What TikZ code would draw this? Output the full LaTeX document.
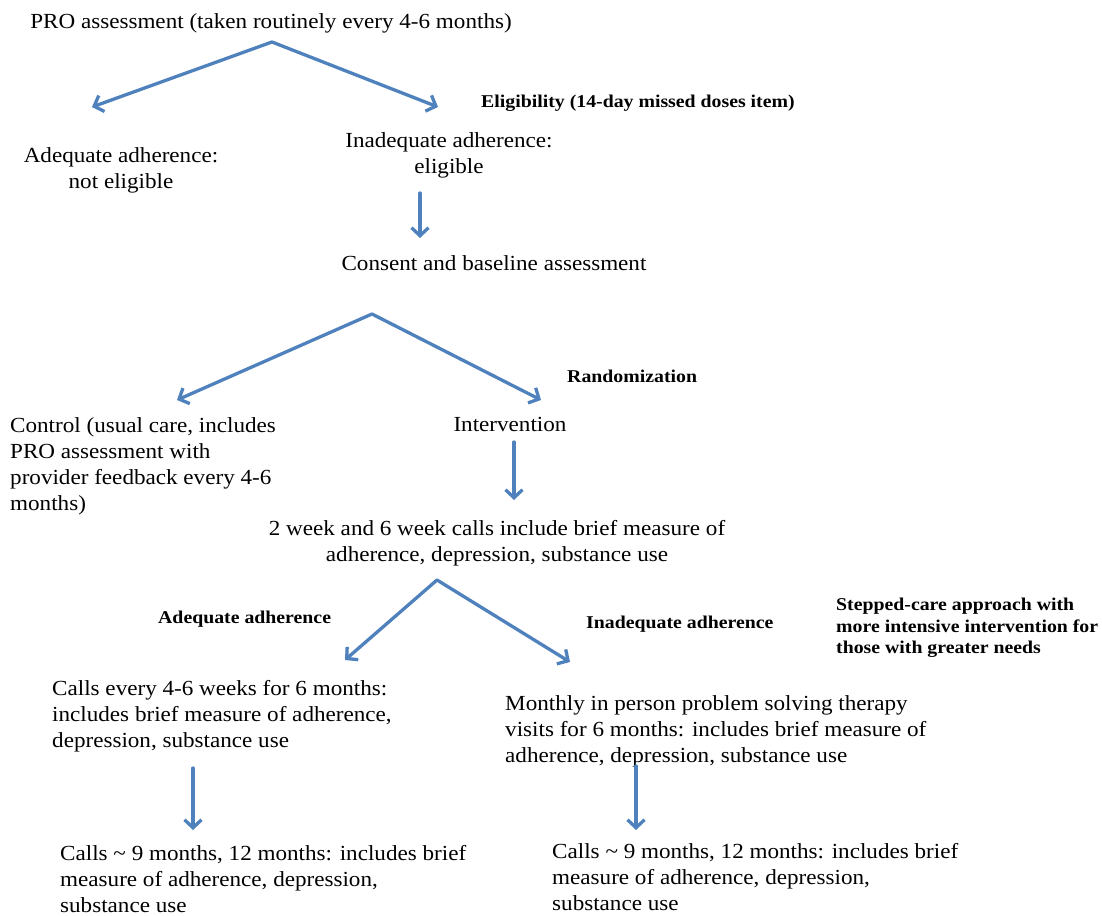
\documentclass[tikz,border=0pt]{standalone}
\usepackage{fontspec}
\setmainfont[FakeStretch=1.075]{Liberation Serif}
\newfontfamily\notefont[FakeStretch=1.1]{Liberation Serif}
\usepackage{xcolor}
\usetikzlibrary{arrows.meta}
\definecolor{flowblue}{RGB}{79,129,189}

\begin{document}
\begin{tikzpicture}[x=1pt, y=-1pt,
    txt/.style={inner sep=0pt, font=\fontsize{21.5}{26}\selectfont, align=center},
    lefttxt/.style={txt, align=left, anchor=north west},
    note/.style={inner sep=0pt, font=\notefont\fontsize{18}{21.5}\selectfont\bfseries, anchor=west, align=left},
    flow/.style={flowblue, line width=3.3pt, line cap=round, -{Straight Barb[length=8pt,width=17pt]}}]

    \useasboundingbox (0,0) rectangle (1102,915);

    % Eligibility step
    \node[txt] (pro) at (271,23) {PRO assessment (taken routinely every 4-6 months)};
    \coordinate (split1) at (272,42);
    \coordinate (adeqtip) at (92,107);
    \coordinate (inadeqtip) at (438,107);
    \draw[flow] (split1) -- (adeqtip);
    \draw[flow] (split1) -- (inadeqtip);
    \node[note] (elig) at (481,103) {Eligibility (14-day missed doses item)};

    \node[txt, anchor=north] (adeq) at (121,147) {Adequate adherence:\\not eligible};
    \node[txt, anchor=north] (inadeq) at (449,132) {Inadequate adherence:\\eligible};

    \coordinate (inadeqout) at (420,193);
    \coordinate (consentin) at (420,238);
    \draw[flow] (inadeqout) -- (consentin);
    \node[txt] (consent) at (494,263) {Consent and baseline assessment};

    % Randomization step
    \coordinate (split2) at (372,314);
    \coordinate (ctrltip) at (177,400);
    \coordinate (intvtip) at (541,400);
    \draw[flow] (split2) -- (ctrltip);
    \draw[flow] (split2) -- (intvtip);
    \node[note] (rand) at (567,376) {Randomization};

    \node[lefttxt] (ctrl) at (10,417) {Control (usual care, includes\\PRO assessment with\\provider feedback every 4-6\\months)};
    \node[txt] (intv) at (510,424) {Intervention};

    \coordinate (intvout) at (514,442);
    \coordinate (callsin) at (514,500);
    \draw[flow] (intvout) -- (callsin);
    \node[txt, anchor=north] (calls) at (497,520) {2 week and 6 week calls include brief measure of\\adherence, depression, substance use};

    % Stepped care
    \coordinate (split3) at (437,580);
    \coordinate (lowtip) at (345,660);
    \coordinate (hightip) at (570,662);
    \draw[flow] (split3) -- (lowtip);
    \draw[flow] (split3) -- (hightip);
    \node[note] (adeqlbl) at (158,619) {Adequate adherence};
    \node[note] (inadeqlbl) at (586,624) {Inadequate adherence};
    \node[note, anchor=north west] (stepped) at (836,598) {Stepped-care approach with\\more intensive intervention for\\those with greater needs};

    \node[lefttxt] (monthly) at (52,680) {Calls every 4-6 weeks for 6 months:\\includes brief measure of adherence,\\depression, substance use};
    \node[lefttxt] (therapy) at (505,695) {Monthly in person problem solving therapy\\visits for 6 months: includes brief measure of\\adherence, depression, substance use};

    \coordinate (monthlyout) at (193,768);
    \coordinate (followLin) at (193,830);
    \coordinate (therapyout) at (636,766);
    \coordinate (followRin) at (636,830);
    \draw[flow] (monthlyout) -- (followLin);
    \draw[flow] (therapyout) -- (followRin);

    \node[lefttxt] (followL) at (60,845) {Calls \textasciitilde{} 9 months, 12 months: includes brief\\measure of adherence, depression,\\substance use};
    \node[lefttxt] (followR) at (552,843) {Calls \textasciitilde{} 9 months, 12 months: includes brief\\measure of adherence, depression,\\substance use};

\end{tikzpicture}
\end{document}
